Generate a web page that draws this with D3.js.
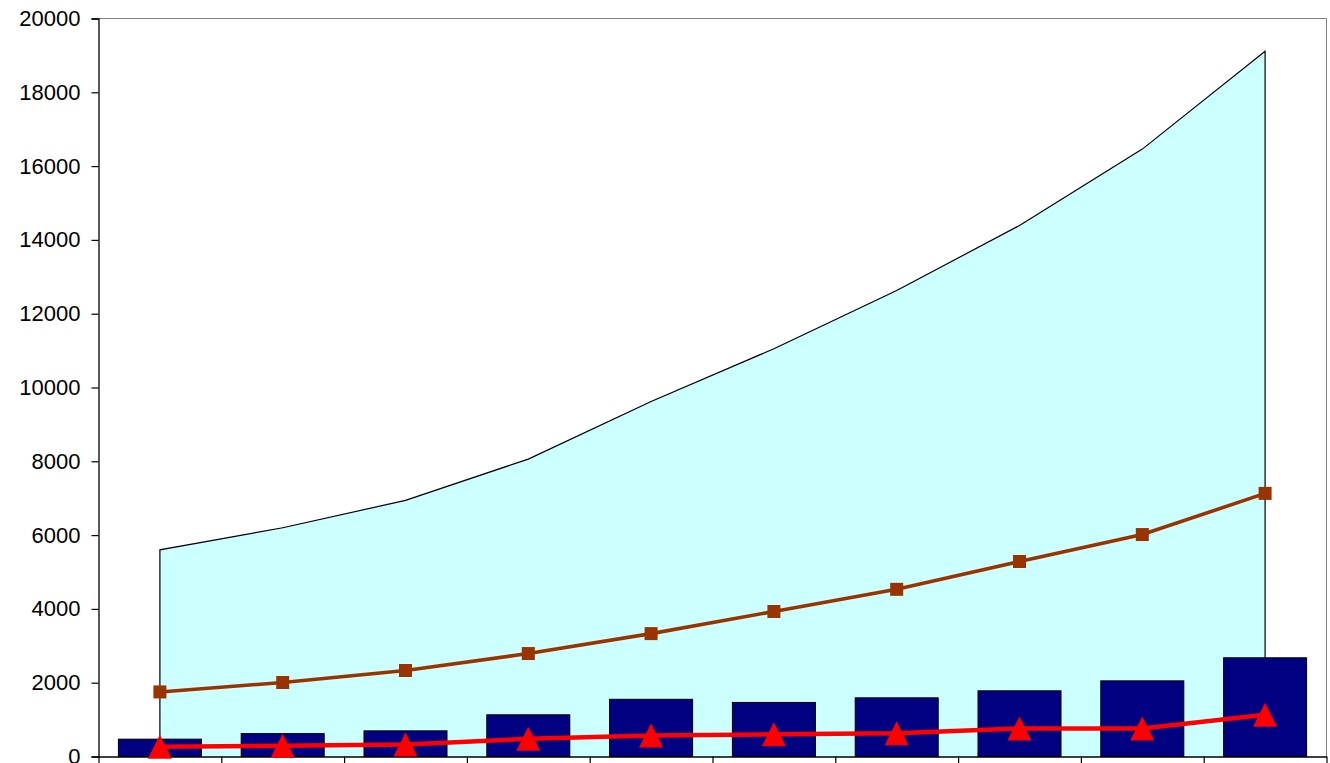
<!DOCTYPE html>
<html>
<head>
<meta charset="utf-8">
<script src="https://cdn.jsdelivr.net/npm/d3@7"></script>
<style>
  html, body { margin: 0; padding: 0; background: #fff; overflow: hidden; }
  svg { display: block; }
</style>
</head>
<body>
<svg id="chart" width="1330" height="763"></svg>
<script>
// ---- data ----
const categories = ["1", "2", "3", "4", "5", "6", "7", "8", "9", "10"];
const areaValues = [5600, 6200, 6940, 8060, 9620, 11050, 12630, 14390, 16460, 19110];
const barValues = [470, 620, 695, 1130, 1550, 1465, 1590, 1780, 2050, 2675];
const squareValues = [1750, 2005, 2330, 2790, 3330, 3930, 4530, 5285, 6015, 7130];
const triangleValues = [265, 290, 325, 480, 570, 600, 630, 760, 760, 1130];
const yTicks = [0, 2000, 4000, 6000, 8000, 10000, 12000, 14000, 16000, 18000, 20000];

// ---- layout ----
const mLeft = 98.5, mRight = 1326.5, mTop = 18.5, mBottom = 756.5;
const svg = d3.select("#chart");

const x = d3.scaleBand().domain(categories).range([mLeft, mRight]).padding(0);
const xBar = d3.scaleBand().domain(categories).range([mLeft, mRight])
  .paddingInner(0.324).paddingOuter(0.162);
const xIdx = d3.scaleLinear().domain([0, categories.length]).range([mLeft, mRight]);
const y = d3.scaleLinear().domain([0, 20000]).range([mBottom, mTop]);
const cx = d => x(d) + x.bandwidth() / 2;

// Excel-style triangle marker (as wide as tall), centred on its point
const excelTriangle = {
  draw(ctx, size) {
    const s = Math.sqrt(size), h = s / 2;
    ctx.moveTo(0, -h);
    ctx.lineTo(h, h);
    ctx.lineTo(-h, h);
    ctx.closePath();
  }
};

// plot border (gray top/right)
svg.append("path")
  .attr("d", `M${mLeft},${mTop}H${mRight}V${mBottom}`)
  .attr("fill", "none").attr("stroke", "#808080").attr("stroke-width", 1);

// area
const areaData = categories.map((c, i) => ({ c, v: areaValues[i] }));
svg.append("path")
  .datum(areaData)
  .attr("d", d3.area().x(d => cx(d.c)).y0(y(0)).y1(d => y(d.v)))
  .attr("fill", "#CCFFFF");
svg.append("path")
  .datum(areaData)
  .attr("d", d => {
    const first = d[0], last = d[d.length - 1];
    return `M${cx(first.c)},${y(0)}` +
      d3.line().x(p => cx(p.c)).y(p => y(p.v))(d).replace(/^M/, "L") +
      `L${cx(last.c)},${y(0)}`;
  })
  .attr("fill", "none").attr("stroke", "#000").attr("stroke-width", 1.2);

// bars
svg.append("g").selectAll("rect")
  .data(categories.map((c, i) => ({ c, v: barValues[i] })))
  .join("rect")
  .attr("x", d => xBar(d.c))
  .attr("width", xBar.bandwidth())
  .attr("y", d => y(d.v))
  .attr("height", d => y(0) - y(d.v))
  .attr("fill", "#000080")
  .attr("stroke", "#000").attr("stroke-width", 1);

// axes
const yAxis = d3.axisLeft(y).tickValues(yTicks).tickSize(7).tickPadding(11)
  .tickFormat(d3.format("d"));
const gy = svg.append("g").attr("transform", `translate(${mLeft},0)`).call(yAxis);
gy.select(".domain").attr("stroke", "#000").attr("stroke-width", 1.3);
gy.selectAll(".tick line").attr("stroke", "#000").attr("stroke-width", 1.2);
gy.selectAll("text").attr("font-family", "'Liberation Sans', Arial, sans-serif")
  .attr("font-size", 22).attr("fill", "#000");

const xAxis = d3.axisBottom(xIdx).tickValues(d3.range(categories.length + 1))
  .tickSize(8).tickSizeOuter(0).tickFormat("");
const gx = svg.append("g").attr("transform", `translate(0,${mBottom})`).call(xAxis);
gx.select(".domain").attr("stroke", "#000").attr("stroke-width", 1.3);
gx.selectAll(".tick line").attr("stroke", "#000").attr("stroke-width", 1.2);

// brown line with squares
const sqData = categories.map((c, i) => ({ c, v: squareValues[i] }));
svg.append("path").datum(sqData)
  .attr("d", d3.line().x(d => cx(d.c)).y(d => y(d.v)))
  .attr("fill", "none").attr("stroke", "#993300").attr("stroke-width", 3.6);
svg.append("g").selectAll("path")
  .data(sqData).join("path")
  .attr("transform", d => `translate(${cx(d.c)},${y(d.v)})`)
  .attr("d", d3.symbol(d3.symbolSquare, 169))
  .attr("fill", "#993300");

// red line with triangles
const trData = categories.map((c, i) => ({ c, v: triangleValues[i] }));
svg.append("path").datum(trData)
  .attr("d", d3.line().x(d => cx(d.c)).y(d => y(d.v)))
  .attr("fill", "none").attr("stroke", "#FF0000").attr("stroke-width", 4.5);
svg.append("g").selectAll("path")
  .data(trData).join("path")
  .attr("transform", d => `translate(${cx(d.c)},${y(d.v)})`)
  .attr("d", d3.symbol(excelTriangle, 576))
  .attr("fill", "#FF0000");
</script>
</body>
</html>
